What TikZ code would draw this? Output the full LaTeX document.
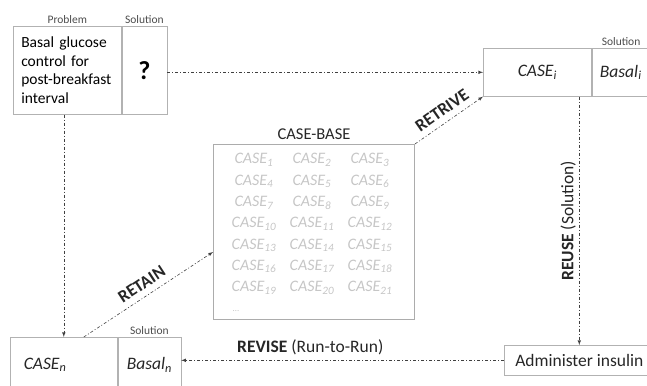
\documentclass[tikz,border=0pt]{standalone}
\usepackage{fontspec}
\setmainfont{Carlito}
\usetikzlibrary{arrows, positioning}
\tikzstyle{cell} = [rectangle, draw=gray!60, line width=0.6pt, inner sep=0pt, anchor=north west]
\tikzstyle{arrow} = [->, >=latex, line width=0.6pt, draw=black!75, dash pattern=on 3pt off 2pt on 1pt off 2pt]
\tikzstyle{tag} = [font=\fontsize{11.5}{12}\selectfont, text=black!70, inner sep=1pt]
\tikzstyle{case} = [font=\fontsize{16}{18}\selectfont\itshape, text=gray!45, inner sep=0.5pt]
\tikzstyle{lbl} = [font=\fontsize{17.5}{20}\selectfont, text=black!85]

\begin{document}
\begin{tikzpicture}[x=1pt, y=-1pt]
\useasboundingbox (0,0) rectangle (647,385);

% new problem, solution still open
\node (prob) [cell, minimum width=108pt, minimum height=88pt, text width=92pt, inner xsep=8pt, align=left, font=\fontsize{15.5}{18.5}\selectfont] at (13,26) {Basal glucose\\control for\\post-breakfast\\interval};
\node (probsol) [cell, minimum width=45pt, minimum height=88pt, font=\fontsize{26}{26}\selectfont\bfseries] at (prob.north east) {?};
\node (probtag) [tag, above=1pt of prob] {Problem};
\node (probsoltag) [tag, above=1pt of probsol] {Solution};

% retrieved case
\node (casei) [cell, minimum width=108pt, minimum height=48pt, lbl, font=\fontsize{17.5}{20}\selectfont\itshape] at (483,48) {CASE\textsubscript{i}};
\node (basali) [cell, minimum width=70pt, minimum height=48pt, text width=62pt, inner xsep=8pt, align=left, lbl, font=\fontsize{17.5}{20}\selectfont\itshape] at (casei.north east) {Basal\textsubscript{i}};
\node (basalitag) [tag, above=1pt of basali.north west, anchor=south west, xshift=9pt] {Solution};

% case base
\node (base) [cell, draw=gray!65, line width=1pt, minimum width=201pt, minimum height=175pt] at (213,144) {};
\node (basetitle) [lbl, font=\fontsize{16.5}{18}\selectfont, above=1pt of base] {CASE-BASE};
\foreach \r in {0,...,6}
  \foreach \c/\x in {1/254,2/312,3/370} {
    \pgfmathtruncatemacro\k{3*\r+\c}
    \node (c\k) [case] at (\x,160+21.3*\r) {CASE\textsubscript{\k}};
  }
\node (more) [case, font=\fontsize{9}{9}\selectfont] at (236,311) {\ldots};

% new case and insulin step
\node (casen) [cell, minimum width=107pt, minimum height=55pt, text width=80pt, inner xsep=13.5pt, align=left, lbl, font=\fontsize{17.5}{20}\selectfont\itshape] at (10,337) {CASE\textsubscript{n}};
\node (basaln) [cell, minimum width=63pt, minimum height=55pt, lbl, font=\fontsize{17.5}{20}\selectfont\itshape] at (casen.north east) {Basal\textsubscript{n}};
\node (basalntag) [tag, above=1pt of basaln] {Solution};
\node (admin) [cell, minimum width=150pt, minimum height=30pt, lbl] at (504,345) {Administer insulin};

% cycle
\draw [arrow] (casen.north |- prob.south) -- (casen.north);
\draw [arrow] (probsol.east |- casei.west) -- (casei.west);
\draw [arrow] (base.north east) -- node (retrive) [lbl, font=\fontsize{17.5}{20}\selectfont\bfseries, sloped, above=3pt] {RETRIVE} (casei.south west);
\draw [arrow] (admin.north |- casei.south) -- node (reuse) [lbl, midway, rotate=90, anchor=south] {\textbf{REUSE} (Solution)} (admin.north);
\draw [arrow] (admin.west) -- node (revise) [lbl, pos=0.6, above=2pt] {\textbf{REVISE} (Run-to-Run)} (admin.west -| basaln.east);
\draw [arrow] ([xshift=20pt]casen.north) -- node (retain) [lbl, font=\fontsize{17.5}{20}\selectfont\bfseries, sloped, above=3pt] {RETAIN} ([yshift=-20pt]base.west);
\end{tikzpicture}
\end{document}
